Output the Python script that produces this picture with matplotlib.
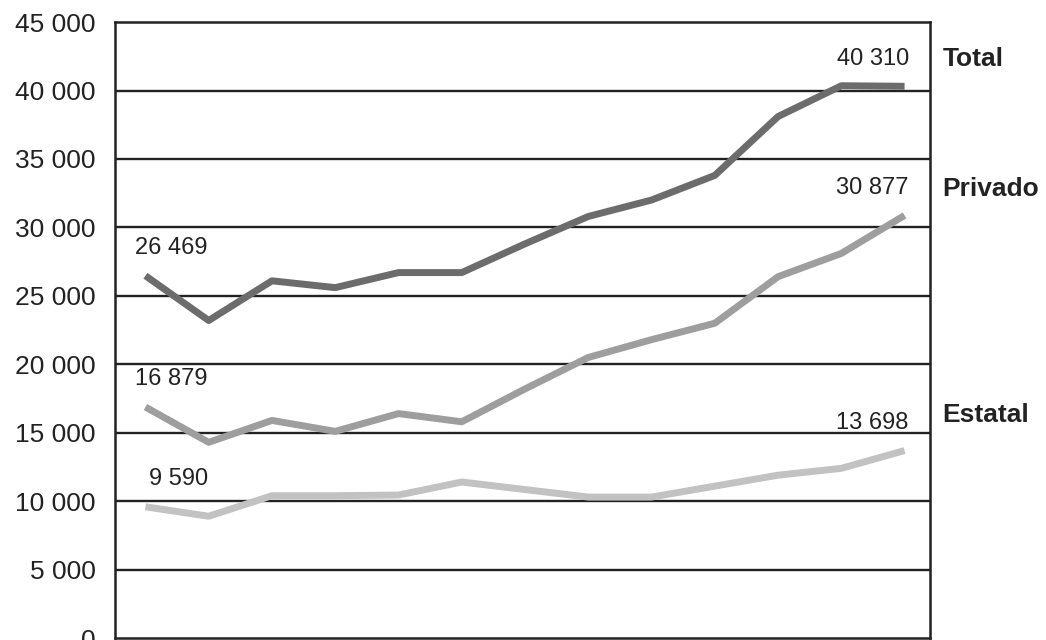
import matplotlib
matplotlib.use("Agg")
import matplotlib.pyplot as plt

years = list(range(1996, 2009))
total = [26469, 23200, 26100, 25600, 26700, 26700, 28800, 30800, 32000, 33800, 38100, 40350, 40310]
privado = [16879, 14300, 15900, 15100, 16400, 15800, 18200, 20500, 21800, 23000, 26400, 28100, 30877]
estatal = [9590, 8900, 10400, 10400, 10450, 11400, 10850, 10300, 10300, 11100, 11900, 12400, 13698]
series_names = ["Total", "Privado", "Estatal"]
yticks = list(range(0, 45001, 5000))

def fmt(v):
    return f"{v:,}".replace(",", " ")

plt.rcParams['font.family'] = ['Liberation Sans', 'DejaVu Sans']

fig = plt.figure(figsize=(10.46, 6.4), dpi=100)
ax = fig.add_axes([0.110, 0.003, 0.779, 0.9625])

colors = ["#6c6c6c", "#9e9e9e", "#c2c2c2"]
data = [total, privado, estatal]
for vals, c in zip(data, colors):
    ax.plot(years, vals, color=c, lw=5, solid_capstyle='butt', solid_joinstyle='round', zorder=3)

ax.set_ylim(0, 45000)
ax.set_xlim(years[0] - 0.48, years[-1] + 0.4)
ax.set_yticks(yticks)
ax.set_yticklabels([fmt(v) for v in yticks], fontsize=19, color="#222222")
ax.tick_params(axis='y', length=0, pad=14)
ax.set_xticks([])
for v in yticks[1:-1]:
    ax.axhline(v, color="#222222", lw=1.7, zorder=1)
for s in ax.spines.values():
    s.set_color("#222222")
    s.set_linewidth(1.8)

# value labels at first and last points
for vals in data:
    ax.annotate(fmt(vals[0]), (years[0], vals[0]), xytext=(45, 20), textcoords='offset points',
                ha='right', va='center', fontsize=17, color="#222222")
    ax.annotate(fmt(vals[-1]), (years[-1], vals[-1]), xytext=(3, 20), textcoords='offset points',
                ha='right', va='center', fontsize=17, color="#222222")

# series names on the right
name_offsets = [2000, 1900, 2600]
for name, vals, off in zip(series_names, data, name_offsets):
    ax.annotate(name, (1.0, vals[-1] + off), xycoords=('axes fraction', 'data'),
                xytext=(9, 0), textcoords='offset points', ha='left', va='center',
                fontsize=19, fontweight='bold', color="#222222", annotation_clip=False)

fig.savefig("out.png", dpi=100)
